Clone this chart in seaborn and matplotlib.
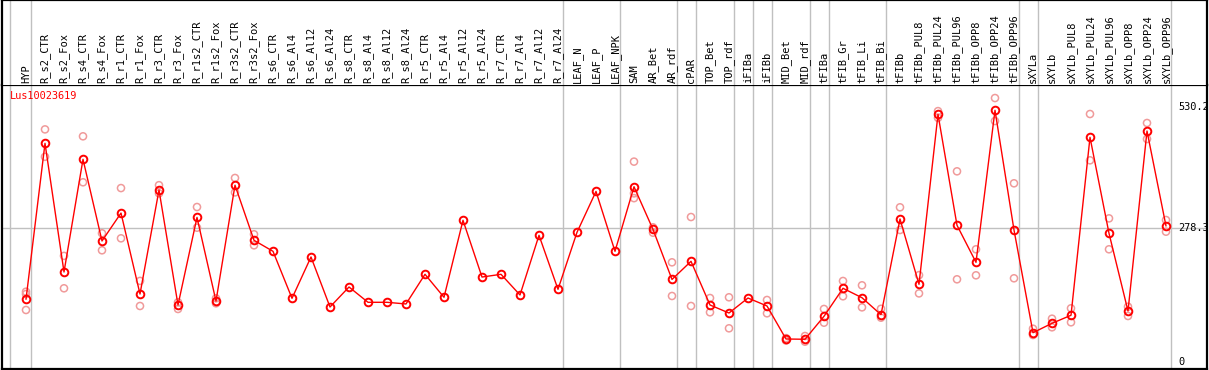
import numpy as np
import pandas as pd
import matplotlib
matplotlib.use('Agg')
import matplotlib.pyplot as plt
import seaborn as sns

sns.set_theme(style='white')
plt.rcParams['font.family'] = ['DejaVu Sans Mono']

# sample names along the x axis
samples = ['HYP', 'R_s2_CTR', 'R_s2_Fox', 'R_s4_CTR', 'R_s4_Fox', 'R_r1_CTR', 'R_r1_Fox',
           'R_r3_CTR', 'R_r3_Fox', 'R_r1s2_CTR', 'R_r1s2_Fox', 'R_r3s2_CTR', 'R_r3s2_Fox',
           'R_s6_CTR', 'R_s6_Al4', 'R_s6_Al12', 'R_s6_Al24', 'R_s8_CTR', 'R_s8_Al4',
           'R_s8_Al12', 'R_s8_Al24', 'R_r5_CTR', 'R_r5_Al4', 'R_r5_Al12', 'R_r5_Al24',
           'R_r7_CTR', 'R_r7_Al4', 'R_r7_Al12', 'R_r7_Al24', 'LEAF_N', 'LEAF_P', 'LEAF_NPK',
           'SAM', 'AR_Bet', 'AR_rdf', 'cPAR', 'TOP_Bet', 'TOP_rdf', 'iFIBa', 'iFIBb',
           'MID_Bet', 'MID_rdf', 'tFIBa', 'tFIB_Gr', 'tFIB_Li', 'tFIB_Bi', 'tFIBb',
           'tFIBb_PUL8', 'tFIBb_PUL24', 'tFIBb_PUL96', 'tFIBb_OPP8', 'tFIBb_OPP24',
           'tFIBb_OPP96', 'sXYLa', 'sXYLb', 'sXYLb_PUL8', 'sXYLb_PUL24', 'sXYLb_PUL96',
           'sXYLb_OPP8', 'sXYLb_OPP24', 'sXYLb_OPP96']

# mean expression per sample
means = [129.7, 454, 186.5, 420.8, 251, 309, 140.7, 357, 117.9, 300, 126, 367, 252.4,
         229.5, 131.8, 217.7, 113.7, 155.3, 123.5, 123.5, 120, 181.7, 133.9, 294, 176,
         181.7, 138.7, 262.8, 150.5, 269, 354, 229.5, 363.8, 275, 171, 208.7, 117.9,
         101.2, 132.4, 115.8, 47.2, 46.6, 94.4, 152.6, 133, 97.7, 296.7, 160.9, 514.3,
         283.6, 206.6, 522.7, 273.8, 60.3, 79.8, 96.5, 466.5, 266.9, 105.4, 479.6, 282.1]

# individual replicates (where visible)
replicates = [
    [145.5, 140.7, 107.5], [483, 426], [220, 152.6], [468.6, 373], [267, 231.6],
    [361, 256.5], [168, 115.8], [367, 350], [123.5, 109.6], [321.6, 278.6],
    [131.8, 121.4], [382, 352], [264.9, 242],
    [], [], [], [], [], [], [], [], [], [], [], [], [], [], [], [],
    [], [], [],
    [416, 350, 340], [279.4, 268.2], [206.6, 136.6], [300.8, 115.8], [132.4, 102.7],
    [133.9, 69.4], [], [128.3, 100.6], [49, 44], [53.4, 41.6], [109.6, 81.1],
    [167.8, 136], [158.8, 113], [110, 91.5], [321, 273.8], [180, 142], [521, 507],
    [395.8, 171.3], [233.7, 179.6], [548.2, 500.4], [370.9, 173.4], [68.6, 55.5],
    [89.4, 71.5], [111, 81.9], [515, 418.7], [298, 233.7], [114.3, 95], [496.3, 463],
    [294.6, 270.3],
]

# last sample index of each group (separator lines)
group_ends = [0, 28, 31, 34, 35, 37, 38, 39, 41, 42, 45, 52, 53, 60]
scale_ticks = [530.2, 278.3, 0]
gene = 'Lus10023619'

pos = np.arange(len(samples))
rep_df = pd.DataFrame([(i, v) for i, vals in enumerate(replicates) for v in vals],
                      columns=['pos', 'value'])

W, H = 1209, 370
fig = plt.figure(figsize=(W / 100, H / 100), dpi=100)
ax = fig.add_axes([2 / W, 1 / H, 1205 / W, 284 / H])
hdr = fig.add_axes([2 / W, 285 / H, 1205 / W, 85 / H], sharex=ax)

xlim = ((2 - 26) / 19, (1207 - 26) / 19)
ax.set_xlim(xlim)
ax.set_ylim(-15.2, 575.3)
hdr.set_ylim(0, 1)

for a in (ax, hdr):
    a.set_xticks([])
    a.set_yticks([])
    a.set_facecolor('white')
    a.axvline(-0.84, color='#c0c0c0', lw=1, zorder=0)
    for g in group_ends:
        a.axvline(g + 0.24, color='#c0c0c0', lw=1, zorder=0)
    for s in a.spines.values():
        s.set_color('black')
        s.set_linewidth(1.6)
hdr.spines['bottom'].set_visible(False)

ax.axhline(278.3, color='#c0c0c0', lw=1, zorder=0)

sns.scatterplot(data=rep_df, x='pos', y='value', ax=ax, s=26, marker='o',
                facecolor='none', edgecolor='#f09a9a', linewidth=1.1, zorder=2)
sns.lineplot(x=pos, y=means, ax=ax, color='red', lw=1, sort=False, marker='o',
             markersize=5.5, markerfacecolor='none', markeredgecolor='red',
             markeredgewidth=1.4, zorder=3)
ax.set_xlabel('')
ax.set_ylabel('')

for i, name in enumerate(samples):
    hdr.text(i, 2 / 85, name, rotation=90, ha='center', va='bottom',
             fontsize=7.5, color='black')

ax.text(8 / 1205, 1 - 11 / 284, gene, transform=ax.transAxes, color='red',
        fontsize=7.4, va='center', ha='left')
for v in scale_ticks:
    ax.text(0.976, v, f'{v:g}', transform=ax.get_yaxis_transform(), fontsize=7.4,
            va='center', ha='left', color='black')

fig.savefig('out.png', dpi=100)
